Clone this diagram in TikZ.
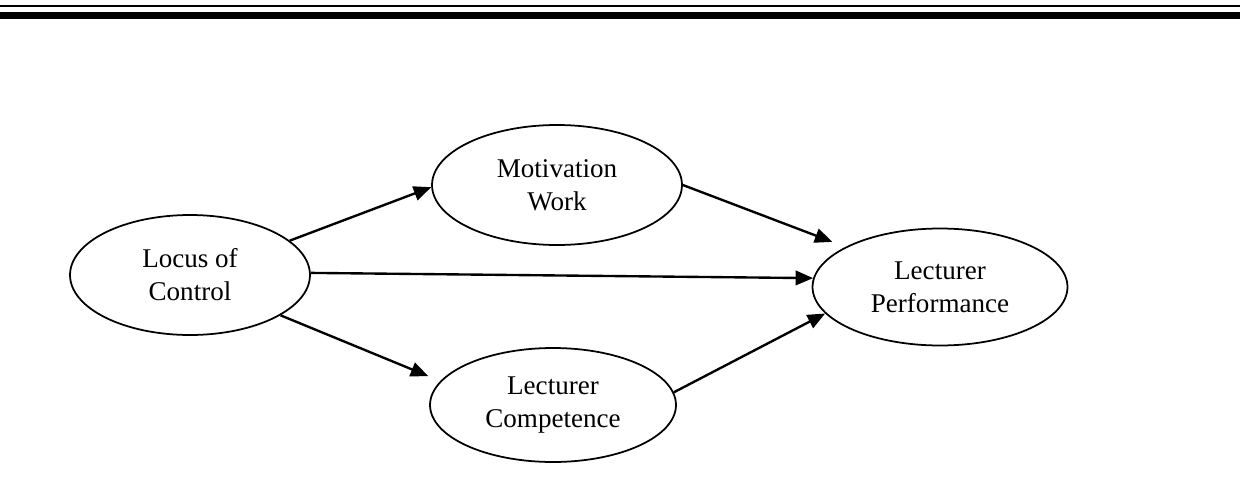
\documentclass[tikz,border=0pt]{standalone}
\usepackage{fontspec}
\setmainfont{Liberation Serif}
\usepackage{tikz}
\usetikzlibrary{positioning,arrows.meta,shapes.geometric}

\begin{document}
\begin{tikzpicture}[x=0.02cm, y=-0.02cm,
      var/.style={ellipse, draw, line width=1pt, inner sep=0pt,
      align=center, font=\fontsize{15.4}{18.8}\selectfont},
      link/.style={-{Triangle[length=3.5mm,width=2.9mm]}, line width=1.35pt},
      rule/.style={line width=#1, draw=black},
    ]
    \useasboundingbox (0,0) rectangle (1240,480);

    % top rules
    \draw[rule=0.04cm] (0,6) -- (1240,6);
    \draw[rule=0.145cm] (0,15.3) -- (1240,15.3);

    \node[var, minimum width=4.8cm, minimum height=2.4cm] (loc) at (190,275) {Locus of\\Control};
    \node[var, minimum width=5cm, minimum height=2.4cm] (mot) at (557,185) {Motivation\\Work};
    \node[var, minimum width=4.92cm, minimum height=2.28cm] (comp) at (553,405) {Lecturer\\Competence};
    \node[var, minimum width=5.1cm, minimum height=2.34cm] (perf) at (940,287) {Lecturer\\Performance};

    \draw[link] (loc.19) -- (mot.181);
    \draw[link] (loc.1) -- (perf.176);
    \draw[link, shorten >=0.26cm] (loc.-24) -- (comp.168);
    \draw[link, shorten >=0.28cm] (mot.0) -- (perf.157);
    \draw[link] (comp.6) -- (perf.193);
  \end{tikzpicture}
\end{document}
